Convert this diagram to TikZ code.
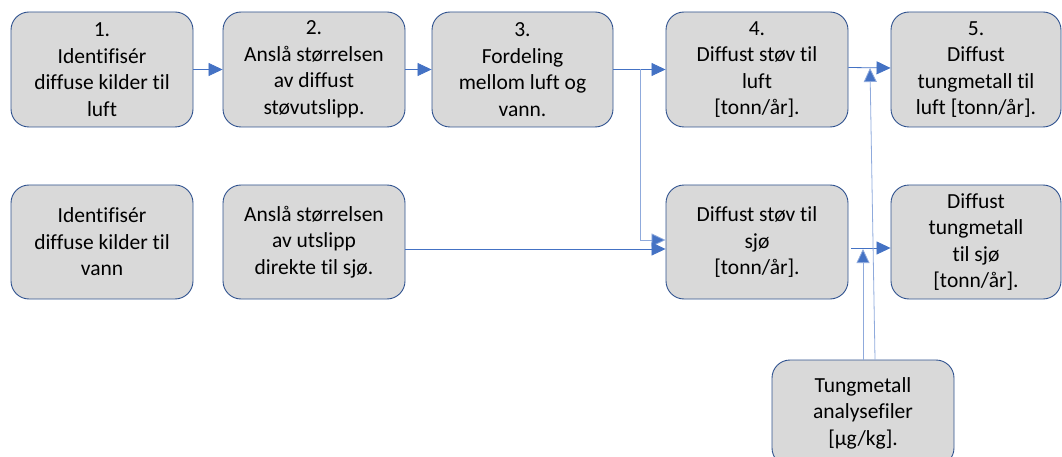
\documentclass[tikz,border=0pt]{standalone}
\usepackage{fontspec}
\setmainfont{Carlito}[Ligatures={NoCommon}]
\usetikzlibrary{arrows.meta}
\definecolor{boxfill}{HTML}{D9D9D9}
\definecolor{boxdraw}{HTML}{2F528F}
\definecolor{conn}{HTML}{4472C4}
\definecolor{connlight}{HTML}{8FAADC}
\begin{document}
\begin{tikzpicture}[x=1pt,y=-1pt,
  stepbox/.style={draw=boxdraw,fill=boxfill,line width=0.9pt,rounded corners=18pt,
    minimum width=182pt,minimum height=115pt,align=center,inner sep=2pt,
    font=\fontsize{21.5}{26.5}\selectfont},
  arr/.style={draw=conn,line width=0.8pt,-{Triangle[length=14pt,width=13pt]}},
  thinarr/.style={draw=connlight,line width=0.8pt,-{Triangle[length=14pt,width=13pt,fill=conn]}}]
\useasboundingbox (0,0) rectangle (1062,457);
\node[stepbox] (b1) at (102,69.5) {1.\\Identifisér\\diffuse kilder til\\luft};
\node[stepbox] (b2) at (314,69.5) {2.\\Anslå størrelsen\\av diffust\\støvutslipp.};
\node[stepbox,minimum width=181pt] (b3) at (522.5,69.5) {3.\\Fordeling\\mellom luft og\\vann.};
\node[stepbox] (b4) at (757,69.5) {4.\\Diffust støv til\\luft\\{}[tonn/år].};
\node[stepbox,minimum width=170pt] (b5) at (976,69.5) {5.\\Diffust\\tungmetall til\\luft [tonn/år].};
\node[stepbox,minimum height=114pt] (r1) at (102,242) {Identifisér\\diffuse kilder til\\vann};
\node[stepbox,minimum height=114pt] (r2) at (314,242) {Anslå størrelsen\\av utslipp\\direkte til sjø.};
\node[stepbox,minimum height=114pt] (s) at (757,242) {Diffust støv til\\sjø\\{}[tonn/år].};
\node[stepbox,minimum width=170pt,minimum height=114pt] (ts) at (976,242) {Diffust\\tungmetall\\til sjø\\{}[tonn/år].};
\node[stepbox,minimum height=106pt] (bot) at (863,413) {Tungmetall\\analysefiler\\{}[µg/kg].};
\coordinate (br) at (640,69.5);
\coordinate (t1) at (870,68);
\coordinate (t2) at (863,249);
\draw[arr] (b1.east) -- (b2.west);
\draw[arr] (b2.east) -- (b3.west);
\draw[arr] (b3.east) -- (b4.west);
\draw[thinarr] (br) |- ([yshift=2pt]s.west);
\draw[arr] ([yshift=-7pt]r2.east) -- ([yshift=-7pt]s.west);
\draw[arr] ([yshift=2pt]b4.east) -- ([yshift=1.5pt]b5.west);
\draw[arr] ([xshift=3pt,yshift=-6pt]s.east) -- ([yshift=-6pt]ts.west);
\draw[thinarr] ([xshift=12pt]bot.north) -- (t1);
\draw[thinarr] (bot.north) -- (t2);
\end{tikzpicture}
\end{document}
